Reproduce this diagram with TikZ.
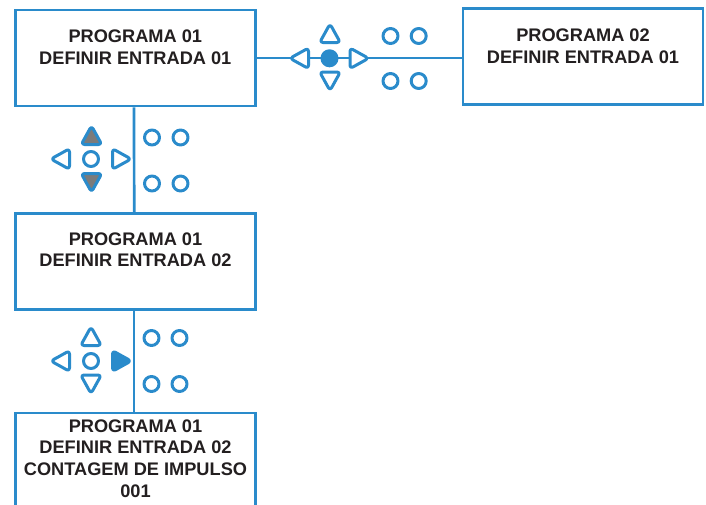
\documentclass[tikz,border=0pt]{standalone}
\usepackage{fontspec}
\setmainfont{Liberation Sans}
\definecolor{lineblue}{HTML}{2A8BCB}
\definecolor{txtgray}{HTML}{231F20}
\definecolor{keygray}{HTML}{7B7B7B}
\begin{document}
\begin{tikzpicture}[x=1pt,y=-1pt,
  box/.style={draw=lineblue,line width=2.7pt,minimum width=240pt,minimum height=96pt,inner sep=0pt,fill=white},
  boxtext/.style={anchor=north,inner sep=0pt,align=center,text=txtgray,font=\fontsize{18.2}{21.8}\selectfont\bfseries},
  conn/.style={draw=lineblue,line width=2.7pt},
  icon/.style={draw=lineblue,line width=3pt,line join=round,rounded corners=3.2pt},
  pics/tri/.style={code={\path[icon,fill=#1] (-10.3,8) -- (10.3,8) -- (0,-10.6) -- cycle;}},
  pics/tri/.default=white,
  pics/ring/.style={code={\path[icon,fill=white] (0,0) circle (7.5pt);}}
]
\useasboundingbox (0,0) rectangle (706,504);
\begin{scope}
\clip (0,0) rectangle (706,504);
% boxes
\node[box] (b1) at (135.3,58) {};
\node[box] (b2) at (583,56.3) {};
\node[box] (b3) at (135.5,261.7) {};
\node[box] (b4) at (135.5,461) {};
% connectors
\draw[conn] (b1.east) -- (b1.east -| b2.west);
\draw[conn] ([xshift=-1.3pt]b1.south) -- ([xshift=-1.3pt]b3.north);
\draw[conn] ([xshift=-1.5pt]b3.south) -- ([xshift=-1.5pt]b4.north);
% texts
\node[boxtext] (t1) at ([yshift=-21.3pt]b1.north) {PROGRAMA 01\\DEFINIR ENTRADA 01};
\node[boxtext] (t2) at ([yshift=-21.5pt]b2.north) {PROGRAMA 02\\DEFINIR ENTRADA 01};
\node[boxtext] (t3) at ([yshift=-19.8pt]b3.north) {PROGRAMA 01\\DEFINIR ENTRADA 02};
\node[boxtext] (t4) at ([yshift=-7.5pt]b4.north) {PROGRAMA 01\\DEFINIR ENTRADA 02\\CONTAGEM DE IMPULSO\\001};
% keypad group 1
\pic at (330,34.5) {tri=white};
\pic[rotate=180] at (330,80) {tri=white};
\pic[rotate=90] at (300.5,58.3) {tri=white};
\pic[rotate=-90] at (358,58.3) {tri=white};
\path[icon,fill=lineblue] (329.5,58.3) circle (7.5pt);
\pic at (390.5,36) {ring};
\pic at (418.7,36) {ring};
\pic at (390.5,81) {ring};
\pic at (418.7,81) {ring};
% keypad group 2
\pic at (91.5,136.5) {tri=keygray};
\pic[rotate=180] at (91.5,181.5) {tri=keygray};
\pic[rotate=90] at (61.5,159) {tri=white};
\pic[rotate=-90] at (120.5,159) {tri=white};
\pic at (91,159) {ring};
\pic at (152,137.5) {ring};
\pic at (180.5,137.5) {ring};
\pic at (152,183.5) {ring};
\pic at (180.5,183.5) {ring};
% keypad group 3
\pic at (91,337.5) {tri=white};
\pic[rotate=180] at (91,383) {tri=white};
\pic[rotate=90] at (61.5,361) {tri=white};
\pic[rotate=-90] at (120.5,361) {tri=lineblue};
\pic at (91,361) {ring};
\pic at (151.5,338) {ring};
\pic at (179.5,338) {ring};
\pic at (151.5,384) {ring};
\pic at (179.5,384) {ring};
\end{scope}
\end{tikzpicture}
\end{document}
